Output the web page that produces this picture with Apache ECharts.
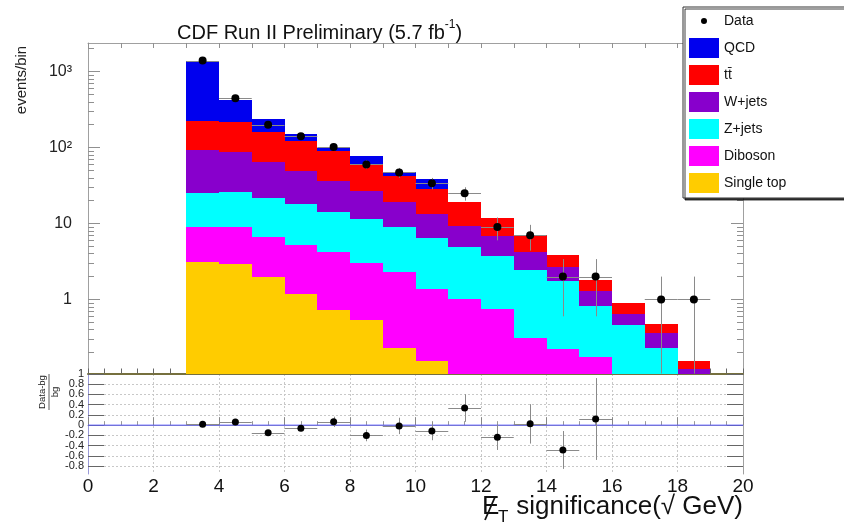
<!DOCTYPE html>
<html><head><meta charset="utf-8">
<script src="https://cdn.jsdelivr.net/npm/echarts@6/dist/echarts.min.js"></script>
<style>html,body{margin:0;padding:0;background:#fff}#c{width:844px;height:525px}</style>
</head><body><div id="c"></div>
<script>
// ---------------- data ----------------
const binLow  = [3, 4, 5, 6, 7, 8, 9, 10, 11, 12, 13, 14, 15, 16, 17, 18];
const binHigh = [4, 5, 6, 7, 8, 9, 10, 11, 12, 13, 14, 15, 16, 17, 18, 19];

const singleTop = [3.13, 2.89, 1.97, 1.19, 0.72, 0.53, 0.23, 0.155, 0, 0, 0, 0, 0, 0, 0, 0];
const diboson   = [5.82, 6.06, 4.71, 4.10, 3.48, 2.45, 2.06, 1.20, 1.02, 0.75, 0.31, 0.226, 0.174, 0, 0, 0];
const zJets     = [15.9, 17.2, 15.1, 12.9, 10.1, 8.5, 6.75, 5.12, 3.91, 2.96, 2.12, 1.51, 0.646, 0.459, 0.231, 0];
const wJets     = [67.2, 60.6, 42.2, 30.6, 21.7, 15.1, 10.1, 7.0, 4.47, 3.24, 1.77, 0.95, 0.47, 0.176, 0.126, 0.12];
const ttbar     = [130, 128, 98, 73, 55, 35, 23.7, 15.4, 9.7, 4.95, 2.8, 1.22, 0.5, 0.25, 0.112, 0.037];
const qcd       = [1174, 213, 74, 28, 7, 15.4, 5.1, 9.8, 0, 0, 0, 0, 0, 0, 0, 0];

const dataCounts = [1400, 445, 199, 141, 102, 60, 47, 34, 25, 9, 7, 2, 2, null, 1, 1];
const dataErr    = [37, 21, 14, 12, 10, 7.8, 6.9, 5.8, 5, 3, 2.6, 1.4, 1.4, null, 1, 1];

const ratioVals = [0.02, 0.06, -0.15, -0.06, 0.065, -0.2, -0.015, -0.115, 0.335, -0.235, 0.025, -0.485, 0.12, null, null, null];
const ratioErr  = [0.01, 0.03, 0.05, 0.06, 0.1, 0.115, 0.16, 0.18, 0.27, 0.25, 0.385, 0.37, 0.8, null, null, null];

const yTickValues  = [1, 10, 100, 1000];
const yTickLabels  = ['1', '10', '10²', '10³'];
const yMinorValues = [0.2,0.3,0.4,0.5,0.6,0.7,0.8,0.9, 2,3,4,5,6,7,8,9, 20,30,40,50,60,70,80,90, 200,300,400,500,600,700,800,900, 2000];
const ratioTickValues = [-0.8, -0.6, -0.4, -0.2, 0, 0.2, 0.4, 0.6, 0.8, 1];
const ratioTickLabels = ['-0.8', '-0.6', '-0.4', '-0.2', '0', '0.2', '0.4', '0.6', '0.8', '1'];

const Y_MIN = 0.106, Y_MAX = 2380;
const R_MIN = -0.955, R_MAX = 1;
const FONT = 'Liberation Sans, Arial, Helvetica, sans-serif';

// ---------------- build ----------------
const processes = [
  { name: 'Single top', vals: singleTop, color: '#ffcc00' },
  { name: 'Diboson',    vals: diboson,   color: '#ff00ff' },
  { name: 'Z+jets',     vals: zJets,     color: '#00ffff' },
  { name: 'W+jets',     vals: wJets,     color: '#8800cc' },
  { name: 'tt\u0304',   vals: ttbar,     color: '#ff0000' },
  { name: 'QCD',        vals: qcd,       color: '#0000ee' }
];

function rectRender(params, api) {
  let lo = api.value(2), hi = api.value(3);
  if (!(hi > lo) || hi <= Y_MIN) return null;
  lo = Math.max(lo, Y_MIN);
  hi = Math.min(hi, Y_MAX);
  const a = api.coord([api.value(0), hi]);
  const b = api.coord([api.value(1), lo]);
  const x0 = Math.round(a[0]), x1 = Math.round(b[0]);
  const y0 = Math.round(a[1]), y1 = Math.round(b[1]);
  return { type: 'rect', shape: { x: x0, y: y0, width: x1 - x0, height: y1 - y0 },
           style: { fill: api.visual('color') } };
}

let base = binLow.map(() => 0);
const procSeries = processes.map(p => {
  const data = binLow.map((lo, i) => [lo, binHigh[i], base[i], base[i] + p.vals[i]]);
  base = data.map(d => d[3]);
  return { type: 'custom', name: p.name, xAxisIndex: 0, yAxisIndex: 0,
           itemStyle: { color: p.color }, renderItem: rectRender, data: data,
           encode: { x: [0, 1], y: [2, 3] }, silent: true, z: 2 };
});

function ptsRender(yMin, r) {
  return function (params, api) {
    const x = api.value(0), y = api.value(1), e = api.value(2);
    const c = api.coord([x, y]);
    const l = api.coord([api.value(3), y]), rr = api.coord([api.value(4), y]);
    const top = api.coord([x, y + e]);
    const bot = api.coord([x, Math.max(y - e, yMin)]);
    const cy = Math.round(c[1]) + 0.5, cx = Math.round(c[0]) + 0.5;
    return { type: 'group', children: [
      { type: 'line', shape: { x1: l[0], y1: cy, x2: rr[0], y2: cy }, style: { stroke: '#8a8a8a', lineWidth: 1 } },
      { type: 'line', shape: { x1: cx, y1: top[1], x2: cx, y2: bot[1] }, style: { stroke: '#8a8a8a', lineWidth: 1 } },
      { type: 'circle', shape: { cx: c[0], cy: c[1], r: r }, style: { fill: '#000' } }
    ]};
  };
}

const mainPts = [], ratioPts = [];
binLow.forEach((lo, i) => {
  const xc = (lo + binHigh[i]) / 2;
  if (dataCounts[i] != null) mainPts.push([xc, dataCounts[i], dataErr[i], lo, binHigh[i]]);
  if (ratioVals[i] != null) ratioPts.push([xc, ratioVals[i], ratioErr[i], lo, binHigh[i]]);
});

const grayLine = { lineStyle: { color: '#a0a0a0', width: 1 } };
function lbl(values, labels) {
  return function (v) {
    const k = values.findIndex(t => Math.abs(t - v) < 1e-9 * Math.max(1, Math.abs(t)));
    return k >= 0 ? labels[k] : '';
  };
}
function logAxis(pos, major, showLabel) {
  return {
    type: 'log', gridIndex: 0, position: pos, min: Y_MIN, max: Y_MAX, logBase: 10,
    axisLine: { show: major, ...grayLine },
    axisTick: { show: true, inside: true, length: major ? 12 : 6, customValues: major ? yTickValues : yMinorValues,
                lineStyle: { color: '#909090' } },
    axisLabel: { show: showLabel, customValues: yTickValues, formatter: lbl(yTickValues, yTickLabels),
                 fontSize: 16, color: '#222', fontFamily: FONT, margin: 16 },
    splitLine: { show: false }
  };
}
// the ratio labels are spread over two overlapping axes so that none is dropped for overlap
const ratioLabelsA = ratioTickValues.filter((v, i) => i % 2 === 1);
const ratioLabelsB = ratioTickValues.filter((v, i) => i % 2 === 0);
function ratioAxis(pos, labelSet, main) {
  return {
    type: 'value', gridIndex: 1, position: pos, min: R_MIN, max: R_MAX,
    axisLine: { show: main, lineStyle: { color: pos === 'left' ? '#9a9ad8' : '#a0a0a0', width: 1 } },
    axisTick: { show: main, inside: true, length: 16, customValues: ratioTickValues, lineStyle: { color: '#666' } },
    axisLabel: { show: !!labelSet, customValues: labelSet || ratioTickValues, formatter: lbl(ratioTickValues, ratioTickLabels),
                 showMinLabel: true, showMaxLabel: true,
                 fontSize: 11, color: '#222', fontFamily: FONT, margin: 4 },
    splitLine: { show: main && pos === 'left', lineStyle: { color: '#c8c8c8', type: [2, 2], width: 1 } }
  };
}

const dataIcon = 'path://M0,0h0.02v0.02h-0.02z M30,20h-0.02v-0.02h0.02z M12,10a3,3 0 1,0 6,0a3,3 0 1,0 -6,0z';

const option = {
  animation: false,
  backgroundColor: '#fff',
  textStyle: { fontFamily: FONT },
  title: {
    text: '{a|CDF Run II Preliminary (5.7 fb}{s|-1}{a|)}',
    left: 172, top: 12,
    textStyle: { fontWeight: 'normal', rich: {
      a: { fontSize: 20, fontWeight: 'normal', color: '#111', fontFamily: FONT, lineHeight: 26, verticalAlign: 'bottom' },
      s: { fontSize: 12, fontWeight: 'normal', color: '#111', fontFamily: FONT, lineHeight: 14, verticalAlign: 'top', padding: [2, 0, 0, 0] }
    } }
  },
  legend: {
    orient: 'vertical', left: 683, top: 7,
    itemWidth: 30, itemHeight: 20, itemGap: 7,
    padding: [4, 90, 5, 6],
    backgroundColor: '#fff', borderColor: '#333', borderWidth: 1,
    shadowColor: 'rgba(0,0,0,0.75)', shadowOffsetX: 2, shadowOffsetY: 2, shadowBlur: 0,
    textStyle: { fontSize: 14, color: '#111', fontFamily: FONT },
    selectedMode: false,
    data: [
      { name: 'Data', icon: dataIcon, itemStyle: { color: '#000' } },
      { name: 'QCD', icon: 'rect' }, { name: 'tt\u0304', icon: 'rect' }, { name: 'W+jets', icon: 'rect' },
      { name: 'Z+jets', icon: 'rect' }, { name: 'Diboson', icon: 'rect' }, { name: 'Single top', icon: 'rect' }
    ]
  },
  grid: [
    { left: 88, width: 655, top: 43, height: 330.5 },
    { left: 88, width: 655, top: 374, height: 100 }
  ],
  xAxis: [
    { type: 'value', gridIndex: 0, position: 'bottom', min: 0, max: 20, interval: 0.5,
      axisLine: { show: true, lineStyle: { color: '#76703e', width: 2 } },
      axisTick: { show: true, inside: true, length: 5, lineStyle: { color: '#666' } },
      axisLabel: { show: false }, splitLine: { show: false } },
    { type: 'value', gridIndex: 0, position: 'top', min: 0, max: 20, interval: 1,
      axisLine: { show: true, ...grayLine },
      axisTick: { show: true, inside: true, length: 5, lineStyle: { color: '#909090' } },
      axisLabel: { show: false }, splitLine: { show: false } },
    { type: 'value', gridIndex: 1, position: 'bottom', min: 0, max: 20, interval: 2,
      axisLine: { show: true, ...grayLine },
      axisTick: { show: true, inside: true, length: 8, lineStyle: { color: '#888' } },
      minorTick: { show: true, splitNumber: 4, length: 4, lineStyle: { color: '#999' } },
      axisLabel: { show: true, fontSize: 19, color: '#111', fontFamily: FONT, margin: 3 },
      splitLine: { show: true, lineStyle: { color: '#c8c8c8', type: [2, 2], width: 1 } } }
  ],
  yAxis: [
    logAxis('left', true, true),
    logAxis('left', false, false),
    logAxis('right', true, false),
    logAxis('right', false, false),
    ratioAxis('left', ratioLabelsA, true),
    ratioAxis('left', ratioLabelsB, false),
    ratioAxis('right', null, true)
  ],
  series: [
    ...procSeries,
    { type: 'custom', name: 'Data', xAxisIndex: 0, yAxisIndex: 0, renderItem: ptsRender(Y_MIN, 4),
      data: mainPts, encode: { x: 0, y: 1 }, itemStyle: { color: '#000' }, silent: true, z: 5 },
    { type: 'line', name: 'zero', xAxisIndex: 2, yAxisIndex: 4, data: [[0, 0], [20, 0]],
      symbol: 'none', lineStyle: { color: '#5a5aff', width: 1 }, silent: true, z: 3 },
    { type: 'custom', name: 'ratio', xAxisIndex: 2, yAxisIndex: 4, renderItem: ptsRender(R_MIN, 3.5),
      data: ratioPts, encode: { x: 0, y: 1 }, itemStyle: { color: '#000' }, silent: true, z: 5 }
  ],
  graphic: [
    { type: 'text', x: 22, y: 80, rotation: Math.PI / 2,
      style: { text: 'events/bin', fontSize: 15, fill: '#222', fontFamily: FONT, align: 'center', verticalAlign: 'middle' } },
    { type: 'group', x: 49, y: 392, rotation: Math.PI / 2, children: [
      { type: 'text', x: 0, y: -1.5, style: { text: 'Data-bg', fontSize: 9.5, fill: '#222', fontFamily: FONT, align: 'center', verticalAlign: 'bottom' } },
      { type: 'line', shape: { x1: -18, y1: 0, x2: 18, y2: 0 }, style: { stroke: '#333', lineWidth: 0.8 } },
      { type: 'text', x: 0, y: 1.5, style: { text: 'bg', fontSize: 9.5, fill: '#222', fontFamily: FONT, align: 'center', verticalAlign: 'top' } }
    ] },
    { type: 'text', x: 482, y: 507, style: { text: 'E', fontSize: 26, fill: '#111', fontFamily: FONT, align: 'left', verticalAlign: 'middle' } },
    { type: 'line', shape: { x1: 485, y1: 520, x2: 495, y2: 497 }, style: { stroke: '#111', lineWidth: 1.8 } },
    { type: 'text', x: 498, y: 517, style: { text: 'T', fontSize: 17, fill: '#111', fontFamily: FONT, align: 'left', verticalAlign: 'middle' } },
    { type: 'text', x: 743, y: 507, style: { text: 'significance(√ GeV)', fontSize: 26, fill: '#111', fontFamily: FONT, align: 'right', verticalAlign: 'middle' } }
  ]
};

const chart = echarts.init(document.getElementById('c'), null, { renderer: 'canvas' });
chart.setOption(option);
</script>
</body></html>
